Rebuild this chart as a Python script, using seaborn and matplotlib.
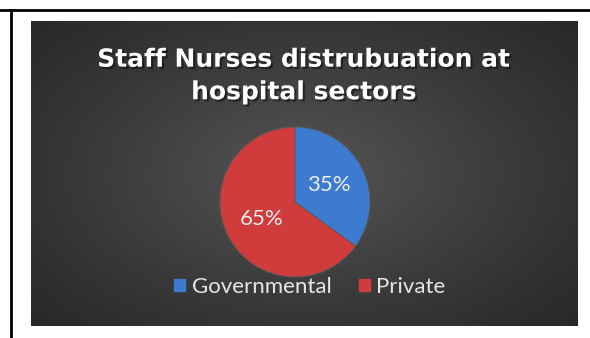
import numpy as np
import matplotlib
matplotlib.use("Agg")
import matplotlib.pyplot as plt
import matplotlib.patheffects as pe
from matplotlib.lines import Line2D
from matplotlib.patches import Patch
import seaborn as sns

# ---- data ----
categories = ["Governmental", "Private"]
shares = [35, 65]
title_text = "Staff Nurses distrubuation at\nhospital sectors"

sns.set_theme(style="white")
plt.rcParams['font.family'] = ['DejaVu Sans']

colors = ["#3d7bd0", "#d03b3b"]

W, H = 590, 338
fig = plt.figure(figsize=(W / 100, H / 100), dpi=100)
fig.patch.set_facecolor("white")

def fx(px):
    return px / W

def fy(py):
    return 1 - py / H

# dark gradient panel
px0, px1, py0, py1 = 31, 578, 21, 326
bg = fig.add_axes([fx(px0), fy(py1), fx(px1 - px0), (py1 - py0) / H])
gx = np.linspace(0, 1, 300)
gy = np.linspace(0, 1, 200)
XX, YY = np.meshgrid(gx, gy)
dist = np.sqrt(((XX - 0.5) / 0.75) ** 2 + ((YY - 0.5) / 0.8) ** 2)
val = np.clip(1 - dist, 0, 1)
lo = np.array([0x26, 0x26, 0x26]) / 255
hi = np.array([0x56, 0x56, 0x56]) / 255
img = lo + (hi - lo) * val[..., None] ** 1.2
bg.imshow(img, aspect="auto", extent=[0, 1, 0, 1], origin="upper")
bg.set_axis_off()

# border lines (top and left)
fig.add_artist(Line2D([0, 1], [fy(10), fy(10)], color="black", lw=2))
fig.add_artist(Line2D([fx(11), fx(11)], [fy(10), 0], color="black", lw=2))

# title
fig.text(fx(304), fy(76), title_text, ha="center", va="center", color="white",
         fontsize=18, fontweight="bold", linespacing=1.45,
         path_effects=[pe.withSimplePatchShadow(offset=(1.5, -1.5), shadow_rgbFace="black", alpha=0.45)])

# pie
r = 75
cx, cy = 295, 202
ax = fig.add_axes([fx(cx - r), fy(cy + r), 2 * r / W, 2 * r / H])
wedges, texts, autotexts = ax.pie(
    shares, colors=colors, startangle=90, counterclock=False,
    autopct="%1.0f%%", pctdistance=0.5,
    wedgeprops=dict(edgecolor="#5a5a5a", linewidth=0.6),
    textprops=dict(color="#ececec", fontsize=16, family=["Lato", "DejaVu Sans"]))
ax.set_xlim(-1, 1)
ax.set_ylim(-1, 1)
ax.set_axis_off()

# legend
handles = [Patch(facecolor=c, edgecolor=c) for c in colors]
leg = fig.legend(handles, categories, loc="center", bbox_to_anchor=(fx(310), fy(287)),
                 ncol=2, frameon=False, handlelength=0.5, handleheight=0.5,
                 handletextpad=0.3, columnspacing=1.2, labelcolor="#e6e6e6",
                 prop=dict(family=["Lato", "DejaVu Sans"], size=16))

fig.savefig("out.png", dpi=100, facecolor="white")
